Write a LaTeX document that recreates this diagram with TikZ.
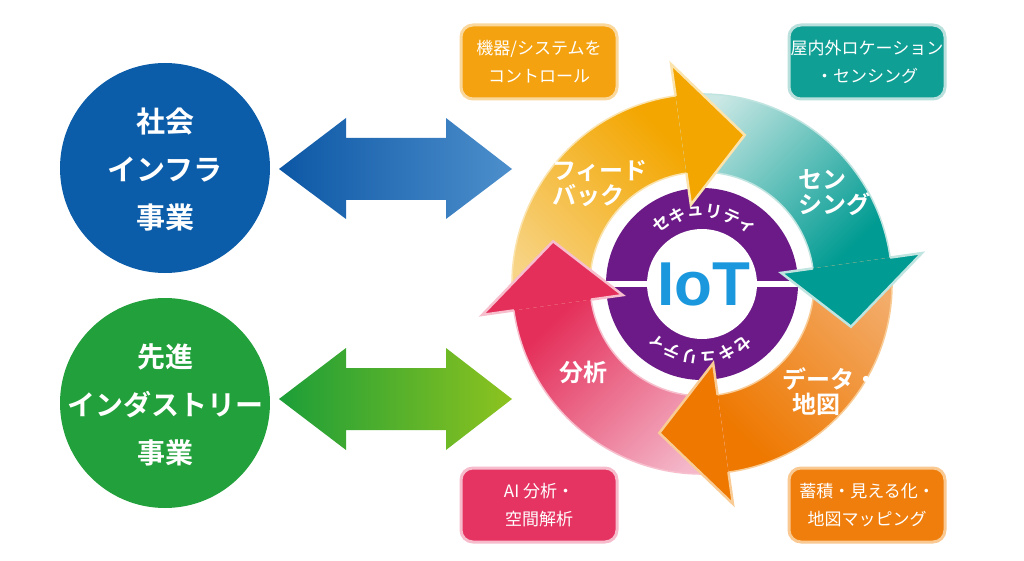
\documentclass[tikz,border=0pt]{standalone}
\usepackage{fontspec}
\setmainfont{Noto Sans CJK JP}[BoldFont={Noto Sans CJK JP Bold}]
\newfontfamily\iotfont{Liberation Sans}
\definecolor{blueC}{HTML}{0B5CA9}
\definecolor{greenC}{HTML}{22A03B}
\definecolor{abL}{HTML}{0C57A5}
\definecolor{abR}{HTML}{4D8FCC}
\definecolor{agL}{HTML}{1C9E38}
\definecolor{agR}{HTML}{8DC31F}
\definecolor{ySat}{HTML}{F3A600}
\definecolor{yPale}{HTML}{F7D486}
\definecolor{yEdge}{HTML}{FBE3AE}
\definecolor{tSat}{HTML}{009B92}
\definecolor{tPale}{HTML}{CBE8E5}
\definecolor{tEdge}{HTML}{C0E4E0}
\definecolor{oSat}{HTML}{EE7800}
\definecolor{oPale}{HTML}{F3AC6A}
\definecolor{oEdge}{HTML}{F9CB95}
\definecolor{pSat}{HTML}{E42F5A}
\definecolor{pPale}{HTML}{F4B8CA}
\definecolor{pEdge}{HTML}{F7BFCD}
\definecolor{purp}{HTML}{6B1A87}
\definecolor{iotBlue}{HTML}{1B98DD}
\definecolor{bA}{HTML}{F4A210}
\definecolor{eA}{HTML}{FAD89D}
\definecolor{bB}{HTML}{109F94}
\definecolor{eB}{HTML}{B9E0DC}
\definecolor{bC}{HTML}{E53462}
\definecolor{eC}{HTML}{F6BCCC}
\definecolor{bD}{HTML}{EF7E0D}
\definecolor{eD}{HTML}{F9C991}
\tikzset{
  bigcirc/.style={circle, minimum size=210pt, inner sep=0pt},
  circtext/.style={text=white, align=center, inner sep=0pt},
  infobox/.style={rounded corners=12pt, minimum width=156pt, minimum height=74pt, text=white,
    align=center, line width=3pt, inner sep=0pt, font=\fontsize{17}{28}\selectfont},
  cyclabel/.style={text=white, inner sep=0pt, font=\bfseries\fontsize{24}{25}\selectfont},
  sectxt/.style={text=white, inner sep=0pt, font=\bfseries\fontsize{17}{17}\selectfont},
  headedge/.style={line width=2.5pt, line join=miter},
  bodyedge/.style={line width=1.5pt},
}
\begin{document}
\begin{tikzpicture}[x=1pt, y=-1pt]
\useasboundingbox (0,0) rectangle (1024,561);
\fill[white] (0,0) rectangle (1024,561);

% left circles
\node[bigcirc, fill=blueC] (infra) at (165,168) {};
\node[circtext, font=\bfseries\fontsize{29}{48}\selectfont] (infraT) at (165,170) {社会\\インフラ\\事業};
\node[bigcirc, fill=greenC] (indus) at (165,403) {};
\node[circtext, font=\bfseries\fontsize{28}{48}\selectfont] (indusT) at (165,405) {先進\\インダストリー\\事業};

% double arrows
\shade[left color=abL, right color=abR]
  (279,169) -- (346,118) -- (346,138) -- (446,138) -- (446,118) -- (512,169)
  -- (446,219) -- (446,200) -- (346,200) -- (346,219) -- cycle;
\shade[left color=agL, right color=agR]
  (279,399) -- (346,348) -- (346,368) -- (446,368) -- (446,348) -- (512,399)
  -- (446,450) -- (446,430) -- (346,430) -- (346,450) -- cycle;

% info boxes
\node[infobox, fill=bA, draw=eA] (boxA) at (539,62) {機器/システムを\\コントロール};
\node[infobox, fill=bB, draw=eB] (boxB) at (867,62) {屋内外ロケーション\\・センシング};
\node[infobox, fill=bC, draw=eC] (boxC) at (539,505) {AI 分析・\\空間解析};
\node[infobox, fill=bD, draw=eD] (boxD) at (867,505) {蓄積・見える化・\\地図マッピング};

% cycle
\begin{scope}[shift={(702,284)}, y=1pt]
  % purple ring
  \fill[purp] (0,0) circle[radius=96];
  \fill[white] (-97,-3) rectangle (97,3);
  \fill[white] (0,0) circle[radius=55];
  \node[text=iotBlue, font=\iotfont\bfseries\fontsize{62}{62}\selectfont, inner sep=0pt] (iot) at (2,0) {IoT};
  \foreach \c [count=\i] in {セ,キ,ュ,リ,テ,ィ} {
    \node[sectxt, rotate={124-(\i-1)*14.4-90}] (s\i) at ({124-(\i-1)*14.4}:73) {\c};
    \node[sectxt, rotate={124-(\i-1)*14.4+90}] (u\i) at ({304-(\i-1)*14.4}:73) {\c};
  }
  % bodies
  \path[bottom color=yPale, top color=ySat, shading angle=-45]
    (188:190) arc[start angle=188, end angle=98, radius=190] -- (98:112)
    arc[start angle=98, end angle=188, radius=112] -- cycle;
  \path[bottom color=tPale, top color=tSat, shading angle=-135]
    (98:190) arc[start angle=98, end angle=8, radius=190] -- (8:112)
    arc[start angle=8, end angle=98, radius=112] -- cycle;
  \path[bottom color=oPale, top color=oSat, shading angle=135]
    (8:190) arc[start angle=8, end angle=-82, radius=190] -- (-82:112)
    arc[start angle=-82, end angle=8, radius=112] -- cycle;
  \path[bottom color=pPale, top color=pSat, shading angle=45]
    (-82:190) arc[start angle=-82, end angle=-172, radius=190] -- (-172:112)
    arc[start angle=-172, end angle=-82, radius=112] -- cycle;
  \draw[bodyedge, yEdge] (188:190) arc[start angle=188, end angle=98, radius=190]
    (98:112) arc[start angle=98, end angle=188, radius=112];
  \draw[bodyedge, tEdge] (98:190) arc[start angle=98, end angle=8, radius=190]
    (8:112) arc[start angle=8, end angle=98, radius=112];
  \draw[bodyedge, oEdge] (8:190) arc[start angle=8, end angle=-82, radius=190]
    (-82:112) arc[start angle=-82, end angle=8, radius=112];
  \draw[bodyedge, pEdge] (-82:190) arc[start angle=-82, end angle=-172, radius=190]
    (-172:112) arc[start angle=-172, end angle=-82, radius=112];
  % heads
  \fill[ySat] (98:222) -- (74:155) -- (98:80) -- cycle;
  \draw[headedge, yEdge] (98:112) -- (98:80) -- (74:155) -- (98:222) -- (98:190);
  \fill[tSat] (8:222) -- (-16:155) -- (8:80) -- cycle;
  \draw[headedge, tEdge] (8:112) -- (8:80) -- (-16:155) -- (8:222) -- (8:190);
  \fill[oSat] (-82:222) -- (-106:155) -- (-82:80) -- cycle;
  \draw[headedge, oEdge] (-82:112) -- (-82:80) -- (-106:155) -- (-82:222) -- (-82:190);
  \fill[pSat] (-172:222) -- (164:155) -- (-172:80) -- cycle;
  \draw[headedge, pEdge] (-172:112) -- (-172:80) -- (164:155) -- (-172:222) -- (-172:190);
  % labels
  \node[cyclabel, anchor=west, align=left] (fb) at (-150,100) {フィード\\バック};
  \node[cyclabel, anchor=west, align=left] (sens) at (96,91) {セン\\シング};
  \node[cyclabel, anchor=west, align=left] (data) at (80,-108) {データ・\\\hspace*{10pt}地図};
  \node[cyclabel] (ana) at (-119,-88) {分析};
\end{scope}
\end{tikzpicture}
\end{document}
